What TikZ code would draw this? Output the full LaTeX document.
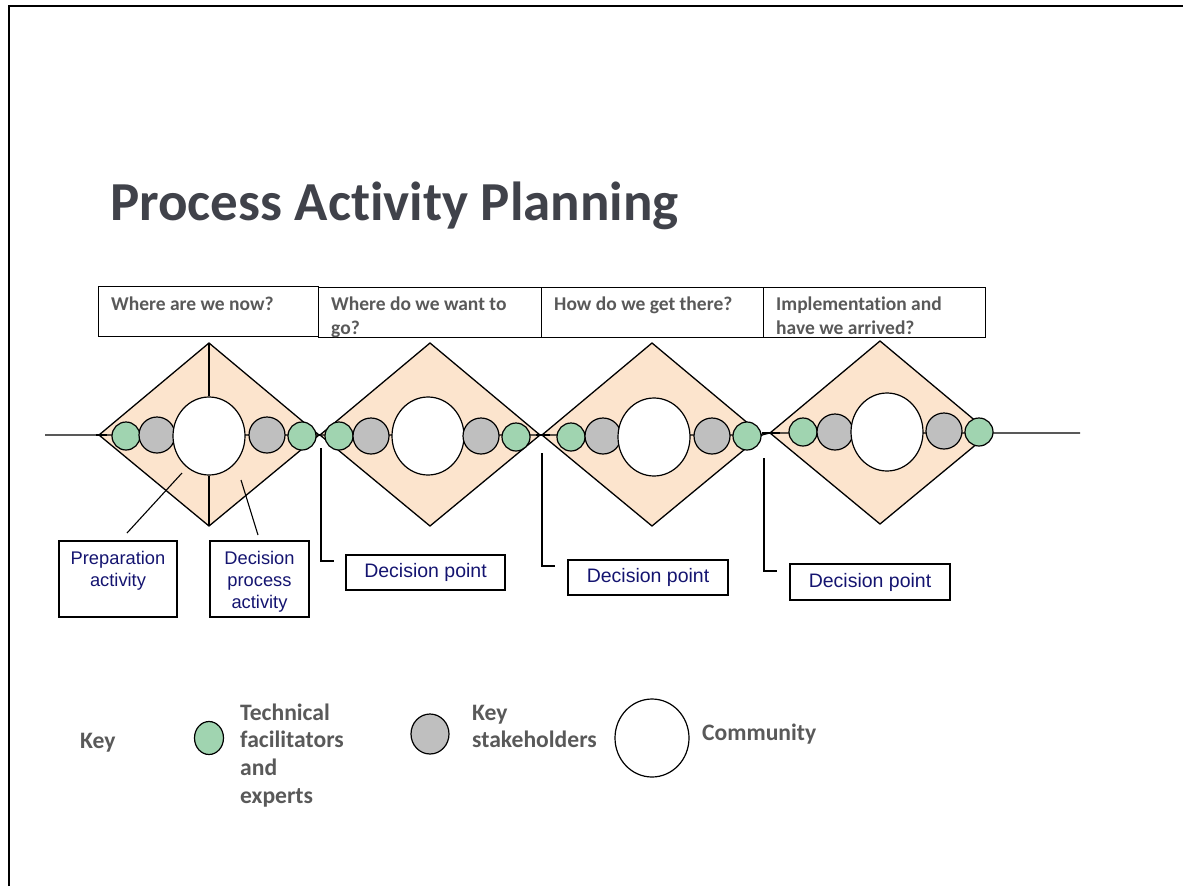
\documentclass[tikz,border=0pt]{standalone}
\usepackage{fontspec}
\setmainfont{Carlito}[Ligatures=NoCommon]
\newfontfamily\arialf{Liberation Sans}
\usetikzlibrary{shapes.geometric}
\definecolor{titlegray}{RGB}{64,66,74}
\definecolor{txtgray}{RGB}{89,89,89}
\definecolor{peach}{RGB}{252,228,205}
\definecolor{dotgreen}{RGB}{160,212,176}
\definecolor{dotgray}{RGB}{191,191,191}
\definecolor{navyblue}{RGB}{20,20,112}
\begin{document}
\begin{tikzpicture}[x=1pt,y=-1pt,line join=miter,
  greendot/.style={circle,draw=black,fill=dotgreen,line width=1.2pt,minimum size=28pt,inner sep=0pt},
  graydot/.style={circle,draw=black,fill=dotgray,line width=1.2pt,minimum size=36pt,inner sep=0pt},
  commdot/.style={ellipse,draw=black,fill=white,line width=1.2pt,minimum width=72pt,minimum height=78pt,inner sep=0pt},
  dia/.style={draw=black,fill=peach,line width=1.3pt},
  hbox/.style={draw=black,line width=1.1pt,minimum width=222pt,minimum height=50pt,inner sep=0pt,anchor=north west},
  htext/.style={font=\fontsize{19.5}{24}\selectfont\bfseries,text=txtgray,align=left,anchor=north west,inner sep=0pt},
  bluebox/.style={draw=black,line width=1.1pt,inner sep=0pt},
  bluetext/.style={font=\arialf\fontsize{18.3}{22}\selectfont,text=navyblue,align=center,inner sep=0pt},
  dptext/.style={font=\arialf\fontsize{19.5}{22}\selectfont,text=navyblue,align=center},
  keytext/.style={font=\fontsize{23.6}{27.6}\selectfont\bfseries,text=txtgray,align=left,anchor=north west,inner sep=0pt},
  pointer/.style={draw=black,line width=1.1pt},
  mainline/.style={draw=black,line width=1.1pt},
  thickseg/.style={draw=black,line width=2.6pt}
]
\useasboundingbox (0,0) rectangle (1183,886);
% frame
\coordinate (fbl) at (9,886);
\coordinate (ftl) at (9,6);
\coordinate (ftr) at (1183,6);
\draw[line width=2pt] (fbl) -- (ftl) -- (ftr);

% title
\node[font=\fontsize{55}{60}\selectfont\bfseries,text=titlegray,anchor=base west,inner sep=0pt] (title) at (110,220) {Process Activity Planning};

% header boxes
\node[hbox,minimum width=220pt] (h1) at (98,286) {};
\node[hbox,minimum width=223pt] (h2) at (318,287) {};
\node[hbox] (h3) at (541,287) {};
\node[hbox] (h4) at (763,287) {};
\node[htext] (t1) at (111,293.2) {\strut Where are we now?};
\node[htext] (t2) at (331,293.2) {\strut Where do we want to\\go?};
\node[htext] (t3) at (554,293.2) {\strut How do we get there?};
\node[htext] (t4) at (776,293.2) {\strut Implementation and\\have we arrived?};

% diamonds
\foreach \n/\cx/\cy in {1/209/435,2/430/435,3/652/435,4/880/433}{
  \coordinate (d\n t) at (\cx,\cy-92);
  \coordinate (d\n b) at (\cx,\cy+91);
  \coordinate (d\n l) at (\cx-110,\cy);
  \coordinate (d\n r) at (\cx+110,\cy);
  \path[dia] (d\n l) -- (d\n t) -- (d\n r) -- (d\n b) -- cycle;
}

% main line
\coordinate (lstart) at (45,435);
\coordinate (lend) at (1080,433);
\draw[mainline] (lstart) -- (d1l) -- (d3r) -- (d4l) -- (lend);
\draw[thickseg] ([xshift=-3pt]d1l) -- ([xshift=8pt]d1l);
\draw[thickseg] (d1r) -- (d2l);
\draw[thickseg] ([xshift=-6pt]d3l) -- ([xshift=8pt]d3l);
\draw[thickseg] ([xshift=-8pt]d4l) -- ([xshift=10pt]d4l);

% circles
\node[greendot] (g11) at (126,436) {};
\node[graydot]  (k11) at (157,435) {};
\node[commdot]  (w1)  at (209,436) {};
\node[graydot]  (k12) at (267,435) {};
\node[greendot] (g12) at (302,436) {};

\node[greendot] (g21) at (339,436) {};
\node[graydot]  (k21) at (371,436) {};
\node[commdot]  (w2)  at (428,436) {};
\node[graydot]  (k22) at (481,436) {};
\node[greendot] (g22) at (516,437) {};

\node[greendot] (g31) at (571,437) {};
\node[graydot]  (k31) at (603,436) {};
\node[commdot]  (w3)  at (654,437) {};
\node[graydot]  (k32) at (712,436) {};
\node[greendot] (g32) at (747,436) {};

\node[greendot] (g41) at (803,432) {};
\node[graydot]  (k41) at (835,432) {};
\node[commdot]  (w4)  at (887,432) {};
\node[graydot]  (k42) at (944,431) {};
\node[greendot] (g42) at (979,432) {};

% D1 vertical divider
\draw[line width=1.3pt] (d1t) -- (w1.north);
\draw[line width=1.3pt] (w1.south) -- (d1b);

% label boxes
\node[bluebox,minimum width=118pt,minimum height=76pt] (prep) at (118,579) {};
\node[bluetext,anchor=north] (prept) at (118,549) {\strut Preparation\\activity};
\node[bluebox,minimum width=99pt,minimum height=76pt] (dproc) at (259.5,579) {};
\node[bluetext,anchor=north] (dproct) at (259.5,549) {\strut Decision\\process\\activity};
\node[bluebox,minimum width=159pt,minimum height=35pt,dptext] (dp1) at (425.5,572.5) {Decision point};
\node[bluebox,minimum width=160pt,minimum height=35pt,dptext] (dp2) at (648,577.5) {Decision point};
\node[bluebox,minimum width=160pt,minimum height=36pt,dptext] (dp3) at (870,582) {Decision point};

% pointers
\coordinate (pa1) at (182,473); \coordinate (pa2) at (127,533);
\draw[pointer] (pa1) -- (pa2);
\coordinate (pb1) at (241,480); \coordinate (pb2) at (258,535);
\draw[pointer] (pb1) -- (pb2);
\coordinate (pc1) at (321,448); \coordinate (pc2) at (334,561);
\draw[pointer] (pc1) |- (pc2);
\coordinate (pd1) at (542,453); \coordinate (pd2) at (555,566);
\draw[pointer] (pd1) |- (pd2);
\coordinate (pe1) at (764,458); \coordinate (pe2) at (777,571);
\draw[pointer] (pe1) |- (pe2);

% key
\node[keytext] (key) at (80,728.7) {\strut Key};
\node[greendot,minimum width=29pt,minimum height=33pt,ellipse] (kg) at (209,738) {};
\node[keytext] (kgt) at (240,700.7) {\strut Technical\\facilitators\\and\\experts};
\node[graydot,minimum width=38pt,minimum height=40pt,ellipse] (kk) at (430,734) {};
\node[keytext] (kkt) at (472,700.7) {\strut Key\\stakeholders};
\node[commdot,minimum width=74pt,minimum height=78pt] (kw) at (652,738) {};
\node[keytext] (kwt) at (702,720.7) {\strut Community};
\end{tikzpicture}
\end{document}
